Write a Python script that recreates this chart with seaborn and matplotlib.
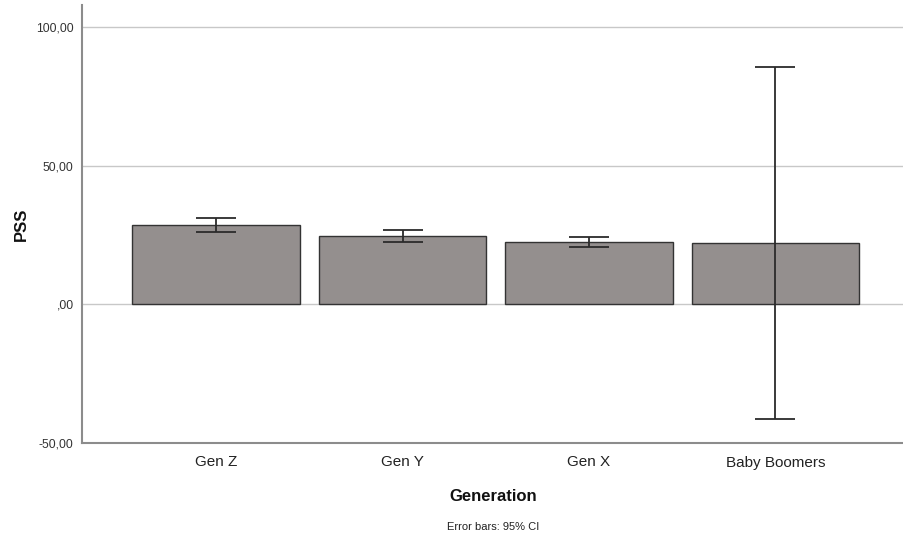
import matplotlib
matplotlib.use("Agg")
import matplotlib.pyplot as plt
import seaborn as sns
import pandas as pd
import numpy as np

categories = ["Gen Z", "Gen Y", "Gen X", "Baby Boomers"]
means = [28.6, 24.5, 22.6, 22.1]
ci_low = [26.0, 22.5, 20.8, -41.5]
ci_high = [31.0, 26.7, 24.4, 85.8]
yticks = [-50, 0, 50, 100]
ytick_labels = ["-50,00", ",00", "50,00", "100,00"]

sns.set_theme(style="white")
plt.rcParams["font.family"] = ["Liberation Sans", "DejaVu Sans"]

df = pd.DataFrame({"Generation": categories, "PSS": means})

fig = plt.figure(figsize=(9.04, 5.43), dpi=100)
ax = fig.add_axes([82/904, 1-443/543, 1-82/904, (443-5)/543])

for v in [0, 50, 100]:
    ax.axhline(v, color="#c8c8c8", lw=1.0, zorder=0)

sns.barplot(data=df, x="Generation", y="PSS", order=categories, errorbar=None,
            color="#948f8e", saturation=1, width=0.9, edgecolor="#333333",
            linewidth=1.0, ax=ax, zorder=2)

m = np.array(means)
lo = m - np.array(ci_low)
hi = np.array(ci_high) - m
ax.errorbar(np.arange(len(categories)), m, yerr=[lo, hi], fmt="none",
            ecolor="#2b2b2b", elinewidth=1.3, capsize=14.5, capthick=1.3, zorder=3)

ax.set_xlim(-0.72, 3.69)
ax.set_ylim(-50, 108)
ax.set_yticks(yticks)
ax.set_yticklabels(ytick_labels, fontsize=8.8, color="#333333")
ax.tick_params(axis="x", labelsize=11, length=0, pad=9, colors="#222222")
ax.tick_params(axis="y", length=0, pad=6)

for s in ["top", "right"]:
    ax.spines[s].set_visible(False)
for s in ["left", "bottom"]:
    ax.spines[s].set_color("#8c8c8c")
    ax.spines[s].set_linewidth(1.5)

ax.set_xlabel("Generation", fontsize=12, fontweight="bold", labelpad=14, color="#111111")
ax.set_ylabel("PSS", fontsize=12, fontweight="bold", labelpad=5, color="#111111")

fig.text((82+904)/2/904, 1-527/543, "Error bars: 95% CI", ha="center", va="center",
         fontsize=8, color="#222222")

fig.savefig("out.png", dpi=100)
